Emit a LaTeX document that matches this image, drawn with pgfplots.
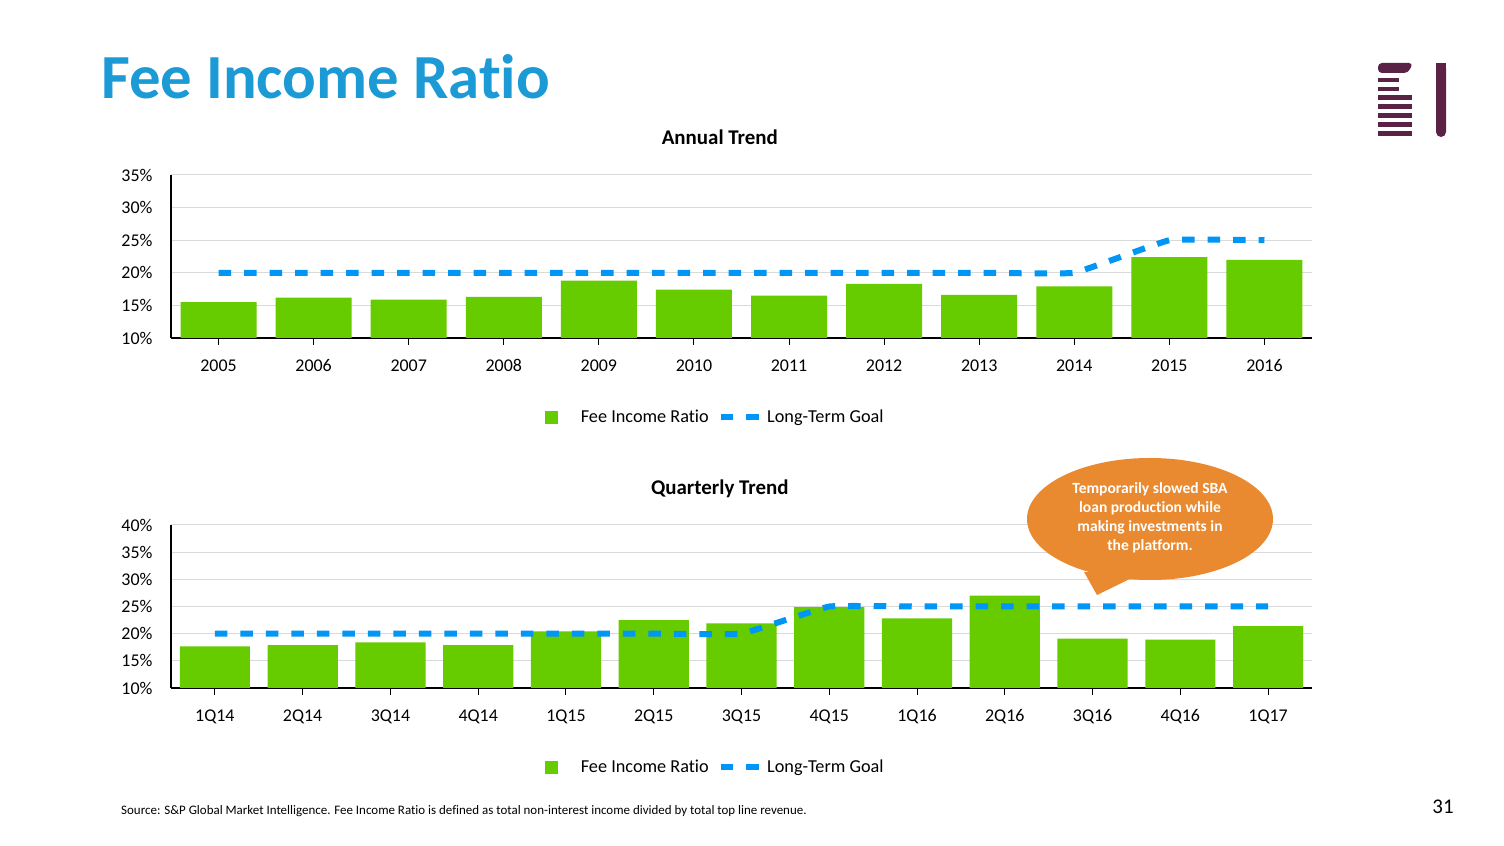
\documentclass[border=0pt]{standalone}
\usepackage{pgfplots}
\pgfplotsset{compat=1.18}
\usepackage{fontspec}
\setmainfont{Carlito}[Ligatures=NoCommon]
\definecolor{barg}{HTML}{66CC00}
\definecolor{goalb}{HTML}{0096F5}
\definecolor{titleb}{HTML}{1C9AD6}
\definecolor{calloutc}{HTML}{E98A30}
\definecolor{logoc}{HTML}{5A2346}
\definecolor{gridc}{HTML}{D9D9D9}

\pgfplotsset{
  feestyle/.style={
    scale only axis, width=1141bp, height=163bp,
    axis x line=bottom, axis y line=left, axis line style={-},
    x axis line style={line width=1.6bp, black},
    y axis line style={line width=1.2bp, black},
    ymajorgrids, grid style={gridc, line width=1bp},
    tick align=outside, major tick length=7bp,
    xtick style={black, line width=1bp}, ytick style={draw=none},
    tick label style={font=\fontsize{18}{21}\selectfont},
    xticklabel style={yshift=-11bp},
    yticklabel style={xshift=-8bp},
    title style={at={(0.481,1.195)}, anchor=center, font=\bfseries\fontsize{21}{24}\selectfont},
    legend columns=-1,
    legend style={draw=none, fill=none, font=\fontsize{18.3}{21}\selectfont,
      at={(0.477,-0.485)}, anchor=center,
      /tikz/every even column/.append style={column sep=7bp},
      /tikz/column 1/.append style={column sep=21bp},
      /tikz/column 3/.append style={column sep=3bp}},
  },
  barleg/.style={legend image code/.code={\fill[barg] (0bp,-6.5bp) rectangle (13bp,6.5bp);}},
  goalleg/.style={legend image code/.code={\draw[goalb, line width=6bp, dash pattern=on 12.5bp off 13bp] (0bp,0bp) -- (38.5bp,0bp);}},
}

\begin{document}
\begin{tikzpicture}
\path[use as bounding box, fill=white] (0,0) rectangle (1504bp,846bp);

% main title
\node[anchor=base west, inner sep=0pt, text=titleb, font=\bfseries\fontsize{63}{68}\selectfont] at (101bp,747bp) {Fee Income Ratio};

% logo
\fill[logoc, rounded corners=4bp] (1378bp,773bp) -- (1378bp,783bp) -- (1413bp,783bp) -- (1408bp,773bp) -- cycle;
\fill[logoc] (1378bp,764bp) rectangle (1399bp,768bp);
\fill[logoc] (1378bp,755bp) rectangle (1399bp,759bp);
\fill[logoc] (1378bp,746bp) rectangle (1412bp,751bp);
\fill[logoc] (1378bp,737bp) rectangle (1412bp,742bp);
\fill[logoc] (1378bp,728bp) rectangle (1412bp,733bp);
\fill[logoc] (1378bp,719bp) rectangle (1412bp,724bp);
\fill[logoc] (1378bp,710bp) rectangle (1412bp,715bp);
\fill[logoc, rounded corners=5bp] (1436bp,783bp) -- (1446bp,783bp) -- (1446bp,709bp) -- (1436bp,709bp) -- cycle;
\fill[logoc] (1436bp,715bp) rectangle (1446bp,783bp);

% Annual
\begin{axis}[feestyle, at={(171bp,508bp)}, anchor=south west,
  title={Annual Trend},
  xmin=-0.5, xmax=11.5, ymin=10, ymax=35,
  xtick={0,...,11},
  xticklabels={2005,2006,2007,2008,2009,2010,2011,2012,2013,2014,2015,2016},
  ytick={10,15,20,25,30,35},
  yticklabels={10\%,15\%,20\%,25\%,30\%,35\%},
]
\addplot[ybar, bar width=0.8, fill=barg, draw=none, barleg] coordinates {
(0,15.5) (1,16.2) (2,15.9) (3,16.3) (4,18.8) (5,17.4) (6,16.5) (7,18.3) (8,16.6) (9,17.9) (10,22.4) (11,22.0)};
\addlegendentry{Fee Income Ratio}
\addplot[goalb, line width=6bp, dash pattern=on 12.5bp off 13bp, smooth, tension=0.15, goalleg] coordinates {
(0,20) (1,20) (2,20) (3,20) (4,20) (5,20) (6,20) (7,20) (8,20) (9,20) (10,25) (11,25)};
\addlegendentry{Long-Term Goal}
\end{axis}

% Quarterly
\begin{axis}[feestyle, at={(171bp,158bp)}, anchor=south west,
  title={Quarterly Trend},
  title style={at={(0.481,1.183)}},
  xmin=-0.5, xmax=12.5, ymin=10, ymax=40,
  xtick={0,...,12},
  xticklabels={1Q14,2Q14,3Q14,4Q14,1Q15,2Q15,3Q15,4Q15,1Q16,2Q16,3Q16,4Q16,1Q17},
  ytick={10,15,20,25,30,35,40},
  yticklabels={10\%,15\%,20\%,25\%,30\%,35\%,40\%},
]
\addplot[ybar, bar width=0.8, fill=barg, draw=none, barleg] coordinates {
(0,17.65) (1,17.9) (2,18.4) (3,17.9) (4,20.4) (5,22.5) (6,21.9) (7,24.9) (8,22.8) (9,27.0) (10,19.1) (11,18.9) (12,21.4)};
\addlegendentry{Fee Income Ratio}
\addplot[goalb, line width=6bp, dash pattern=on 12.5bp off 13bp, smooth, tension=0.15, goalleg] coordinates {
(0,20) (1,20) (2,20) (3,20) (4,20) (5,20) (6,20) (7,25) (8,25) (9,25) (10,25) (11,25) (12,25)};
\addlegendentry{Long-Term Goal}
\end{axis}

% callout
\fill[calloutc] (1150bp,327bp) ellipse [x radius=123bp, y radius=61bp];
\fill[calloutc] (1084bp,274bp) -- (1097bp,251bp) -- (1140bp,272bp) -- cycle;
\node[text=white, font=\bfseries\fontsize{15.6}{19}\selectfont, align=center] at (1150bp,328bp)
  {Temporarily slowed SBA\\loan production while\\making investments in\\the platform.};

% footer
\node[anchor=west, inner sep=0pt, font=\fontsize{13}{15}\selectfont] at (121bp,35bp)
  {Source: S\&P Global Market Intelligence. Fee Income Ratio is defined as total non-interest income divided by total top line revenue.};
\node[inner sep=0pt, font=\fontsize{21}{24}\selectfont] at (1443bp,39bp) {31};
\end{tikzpicture}
\end{document}
